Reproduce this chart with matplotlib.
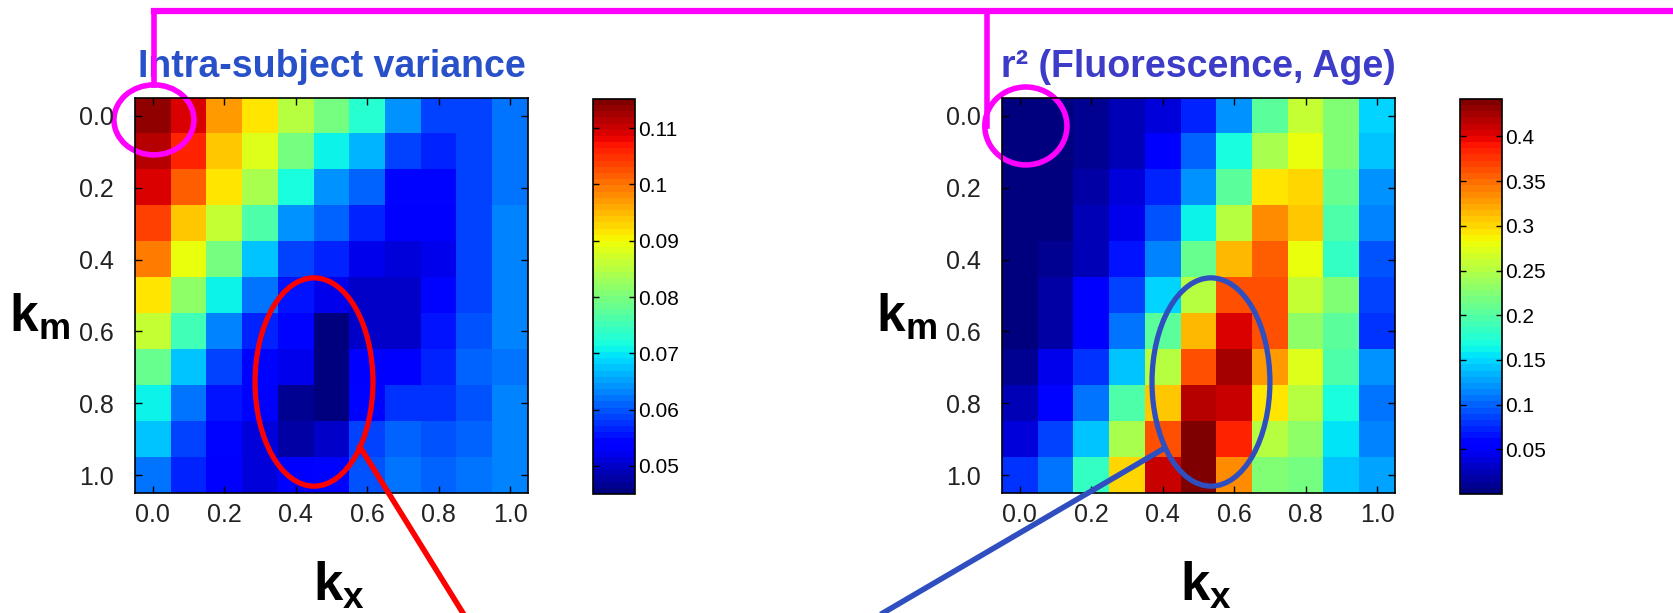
import numpy as np
import matplotlib
matplotlib.use('Agg')
import matplotlib.pyplot as plt
from matplotlib.patches import Ellipse
from matplotlib.lines import Line2D

plt.rcParams['font.family'] = ['Liberation Sans', 'DejaVu Sans']
plt.rcParams['mathtext.fontset'] = 'custom'
plt.rcParams['mathtext.bf'] = 'Liberation Sans:bold'
plt.rcParams['mathtext.rm'] = 'Liberation Sans'

# k values (cell centres) and tick labels
k_vals = [0.0, 0.1, 0.2, 0.3, 0.4, 0.5, 0.6, 0.7, 0.8, 0.9, 1.0]
tick_vals = [0.0, 0.2, 0.4, 0.6, 0.8, 1.0]
tick_labels = ['0.0', '0.2', '0.4', '0.6', '0.8', '1.0']

# rows = k_m, columns = k_x
intra_var = [
    [0.114, 0.1096, 0.097, 0.0915, 0.0855, 0.080, 0.0735, 0.0643, 0.059, 0.059, 0.0625],
    [0.1117, 0.1064, 0.094, 0.088, 0.080, 0.0713, 0.066, 0.059, 0.057, 0.059, 0.0625],
    [0.109, 0.101, 0.092, 0.084, 0.072, 0.064, 0.061, 0.054, 0.054, 0.059, 0.0625],
    [0.104, 0.094, 0.086, 0.076, 0.064, 0.061, 0.0565, 0.0528, 0.0528, 0.059, 0.063],
    [0.0995, 0.0889, 0.080, 0.068, 0.059, 0.0565, 0.052, 0.051, 0.052, 0.059, 0.063],
    [0.0915, 0.082, 0.0705, 0.0615, 0.0555, 0.052, 0.0503, 0.0495, 0.054, 0.059, 0.063],
    [0.086, 0.075, 0.063, 0.057, 0.0538, 0.045, 0.0495, 0.0495, 0.0555, 0.060, 0.063],
    [0.079, 0.068, 0.059, 0.0538, 0.052, 0.045, 0.0535, 0.053, 0.0565, 0.061, 0.0625],
    [0.0713, 0.0625, 0.0555, 0.053, 0.047, 0.046, 0.0538, 0.058, 0.058, 0.060, 0.063],
    [0.067, 0.059, 0.0538, 0.051, 0.048, 0.0503, 0.059, 0.061, 0.060, 0.061, 0.063],
    [0.0625, 0.057, 0.053, 0.051, 0.053, 0.0538, 0.060, 0.0615, 0.061, 0.0615, 0.063],
]

r2_fluor_age = [
    [0.004, 0.004, 0.011, 0.022, 0.038, 0.072, 0.122, 0.205, 0.26, 0.225, 0.15],
    [0.004, 0.004, 0.011, 0.027, 0.05, 0.099, 0.166, 0.244, 0.28, 0.221, 0.14],
    [0.004, 0.004, 0.015, 0.038, 0.072, 0.122, 0.205, 0.293, 0.298, 0.21, 0.122],
    [0.004, 0.004, 0.022, 0.044, 0.094, 0.16, 0.249, 0.332, 0.304, 0.20, 0.117],
    [0.004, 0.011, 0.022, 0.066, 0.117, 0.21, 0.315, 0.354, 0.28, 0.18, 0.094],
    [0.004, 0.015, 0.05, 0.088, 0.15, 0.255, 0.36, 0.365, 0.26, 0.221, 0.088],
    [0.004, 0.015, 0.05, 0.11, 0.205, 0.315, 0.405, 0.365, 0.23, 0.205, 0.077],
    [0.011, 0.044, 0.077, 0.144, 0.249, 0.365, 0.425, 0.326, 0.276, 0.2, 0.122],
    [0.022, 0.06, 0.105, 0.2, 0.31, 0.415, 0.409, 0.293, 0.255, 0.166, 0.11],
    [0.038, 0.088, 0.14, 0.244, 0.365, 0.438, 0.38, 0.255, 0.23, 0.155, 0.117],
    [0.077, 0.11, 0.18, 0.298, 0.409, 0.438, 0.332, 0.221, 0.215, 0.144, 0.127],
]

left_cticks = [0.05, 0.06, 0.07, 0.08, 0.09, 0.1, 0.11]
left_clabels = ['0.05', '0.06', '0.07', '0.08', '0.09', '0.1', '0.11']
right_cticks = [0.05, 0.1, 0.15, 0.2, 0.25, 0.3, 0.35, 0.4]
right_clabels = ['0.05', '0.1', '0.15', '0.2', '0.25', '0.3', '0.35', '0.4']

cmap = plt.get_cmap('jet', 64)
MAG = '#ff00ff'
RED = '#ff0000'
BLUE = '#2f4fc0'

fig = plt.figure(figsize=(16.73, 6.13), dpi=100)


def heatmap(rect, cb_rect, data, vmin, vmax, cticks, clabels, title, tcolor):
    ax = fig.add_axes(rect)
    step = k_vals[1] - k_vals[0]
    ext = [k_vals[0] - step / 2, k_vals[-1] + step / 2,
           k_vals[-1] + step / 2, k_vals[0] - step / 2]
    im = ax.imshow(np.array(data), cmap=cmap, vmin=vmin, vmax=vmax,
                   extent=ext, aspect='auto', interpolation='nearest')
    ax.set_xticks(tick_vals)
    ax.set_xticklabels(tick_labels)
    ax.set_yticks(tick_vals)
    ax.set_yticklabels(tick_labels)
    ax.tick_params(direction='in', top=True, right=True, length=5, width=1,
                   labelsize=18, labelcolor='#222222')
    ax.tick_params(axis='y', pad=15)
    ax.tick_params(axis='x', pad=7)
    for s in ax.spines.values():
        s.set_linewidth(1.2)
    ax.set_title(title, fontsize=27, fontweight='bold', color=tcolor, pad=15)
    ax.set_ylabel(r'$\mathbf{k}_\mathbf{m}$', fontsize=37, rotation=0,
                  ha='right', va='center')
    ax.yaxis.set_label_coords(-0.165, 0.445)
    ax.set_xlabel(r'$\mathbf{k}_\mathbf{x}$', fontsize=38, va='center')
    ax.xaxis.set_label_coords(0.52, -0.235)

    cax = fig.add_axes(cb_rect)
    cb = fig.colorbar(im, cax=cax)
    cb.set_ticks(cticks)
    cb.set_ticklabels(clabels)
    cax.tick_params(direction='in', left=True, right=True, length=4, width=1,
                    labelsize=15, pad=2)
    cb.outline.set_linewidth(1.2)
    return ax


ax1 = heatmap([0.0807, 0.1958, 0.2349, 0.6444], [0.3545, 0.1942, 0.0251, 0.6444],
              intra_var, 0.045, 0.1152, left_cticks, left_clabels,
              'Intra-subject variance', '#2850c8')
ax2 = heatmap([0.5989, 0.1958, 0.2349, 0.6444], [0.8727, 0.1942, 0.0251, 0.6444],
              r2_fluor_age, 0.0, 0.442, right_cticks, right_clabels,
              'r\u00b2 (Fluorescence, Age)', '#3c3cc8')

# highlight circles around the (0, 0) cell
ax1.add_patch(Ellipse((0.003, 0.011), 0.224, 0.195, fill=False, ec=MAG, lw=4, clip_on=False))
ax2.add_patch(Ellipse((0.017, 0.028), 0.23, 0.217, fill=False, ec=MAG, lw=4, clip_on=False))

# highlight ellipses on the minimum / maximum region
ax1.add_patch(Ellipse((0.451, 0.741), 0.33, 0.58, fill=False, ec=RED, lw=3.8, clip_on=False))
ax2.add_patch(Ellipse((0.535, 0.741), 0.33, 0.58, fill=False, ec=BLUE, lw=3.8, clip_on=False))

# connector lines (figure fraction)
fig.add_artist(Line2D([0.0922, 1.0], [0.982, 0.982], color=MAG, lw=4.5))
fig.add_artist(Line2D([0.0922, 0.0922], [0.982, 0.861], color=MAG, lw=4))
fig.add_artist(Line2D([0.5900, 0.5900], [0.982, 0.794], color=MAG, lw=4))
fig.add_artist(Line2D([0.2152, 0.2767], [0.2708, 0.0], color=RED, lw=4))
fig.add_artist(Line2D([0.6952, 0.5278], [0.2675, 0.0], color=BLUE, lw=4))

fig.savefig('out.png', dpi=100)
